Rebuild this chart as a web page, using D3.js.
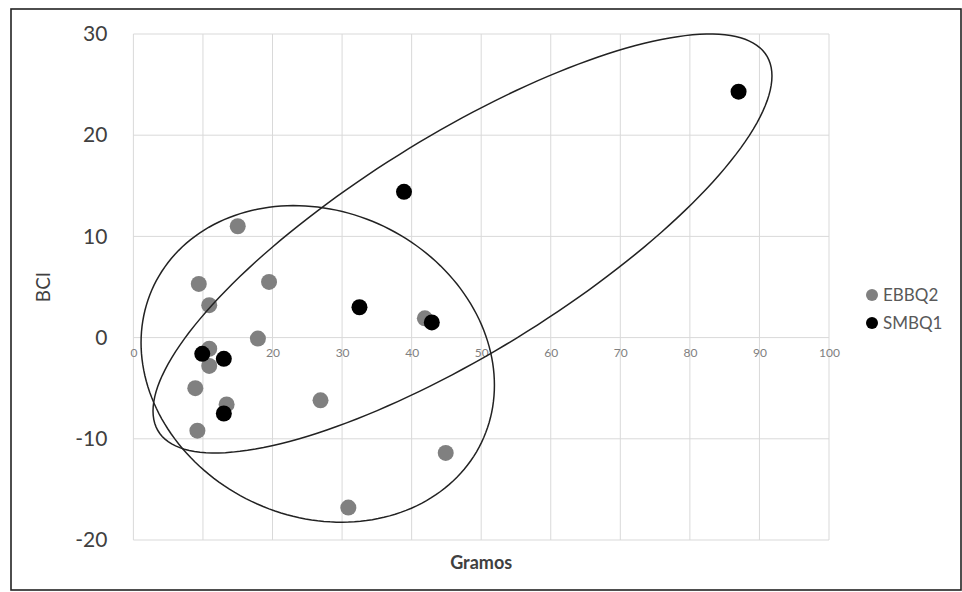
<!DOCTYPE html>
<html><head><meta charset="utf-8">
<script src="https://cdn.jsdelivr.net/npm/d3@7"></script>
<style>body{margin:0;background:#fff}svg{display:block}</style>
</head><body>
<script>
// ---- data ----
const seriesNames = ["EBBQ2", "SMBQ1"];
const ebbq2X = [15.0, 9.4, 19.5, 10.9, 17.9, 10.9, 10.9, 8.9, 13.4, 9.2, 26.9, 41.9, 44.9, 30.9];
const ebbq2Y = [11.0, 5.3, 5.5, 3.2, -0.1, -1.1, -2.8, -5.0, -6.6, -9.2, -6.2, 1.9, -11.4, -16.8];
const smbq1X = [9.9, 13.0, 13.0, 32.5, 42.9, 38.9, 87.0];
const smbq1Y = [-1.6, -2.1, -7.5, 3.0, 1.5, 14.4, 24.3];
const xTicks = [0, 10, 20, 30, 40, 50, 60, 70, 80, 90, 100];
const yTicks = [-20, -10, 0, 10, 20, 30];
// hand-drawn group ellipses (centre, two conjugate semi-axes, data units)
const ellipseCenters = [[26.5, -2.6], [47.31, 9.30]];
const ellipseAxisA = [[25.4, -2.1], [44.49, 16.55]];
const ellipseAxisB = [[0, -15.5], [0, -12.43]];

const W = 962, H = 592;
const svg = d3.select("body").append("svg").attr("width", W).attr("height", H);
const font = "Lato, 'Open Sans', sans-serif";

// outer frame
svg.append("rect").attr("x", 11).attr("y", 9).attr("width", 950).attr("height", 581)
  .attr("fill", "none").attr("stroke", "#222").attr("stroke-width", 1.6);

const x = d3.scaleLinear().domain([0, 100]).range([133.4, 829]);
const y = d3.scaleLinear().domain([-20, 30]).range([540, 34]);

// gridlines
const grid = svg.append("g").attr("stroke", "#d9d9d9").attr("stroke-width", 1);
grid.selectAll("line.v").data(xTicks).join("line").attr("class", "v")
  .attr("x1", d => x(d)).attr("x2", d => x(d)).attr("y1", y(30)).attr("y2", y(-20));
grid.selectAll("line.h").data(yTicks).join("line").attr("class", "h")
  .attr("x1", x(0)).attr("x2", x(100)).attr("y1", d => y(d)).attr("y2", d => y(d));

// y axis labels
const yAxis = d3.axisLeft(y).tickValues(yTicks).tickFormat(d => String(d)).tickSize(0).tickPadding(26);
const gy = svg.append("g").attr("transform", `translate(${x(0)},0)`).call(yAxis);
gy.select(".domain").remove();
gy.selectAll("text").attr("font-family", font).attr("font-size", 21).attr("fill", "#404040");

// x axis labels along y=0
const xAxis = d3.axisBottom(x).tickValues(xTicks).tickFormat(d => String(d)).tickSize(0).tickPadding(11);
const gx = svg.append("g").attr("transform", `translate(0,${y(0)})`).call(xAxis);
gx.select(".domain").remove();
gx.selectAll("text").attr("font-family", font).attr("font-size", 12).attr("fill", "#808080");

// axis titles
svg.append("text").attr("transform", `translate(50,${(y(30)+y(-20))/2}) rotate(-90)`)
  .attr("text-anchor", "middle").attr("font-family", font).attr("font-size", 19)
  .attr("fill", "#404040").text("BCI");
svg.append("text").attr("x", (x(0)+x(100))/2).attr("y", 569)
  .attr("text-anchor", "middle").attr("font-family", font).attr("font-size", 18).attr("font-weight", "bold")
  .attr("fill", "#404040").text("Gramos");

// points
const colors = ["#808080", "#000000"];
const eb = ebbq2X.map((v, i) => [v, ebbq2Y[i]]);
const sm = smbq1X.map((v, i) => [v, smbq1Y[i]]);
svg.append("g").selectAll("circle").data(eb).join("circle")
  .attr("cx", d => x(d[0])).attr("cy", d => y(d[1])).attr("r", 8).attr("fill", colors[0]);
svg.append("g").selectAll("circle").data(sm).join("circle")
  .attr("cx", d => x(d[0])).attr("cy", d => y(d[1])).attr("r", 8).attr("fill", colors[1]);

// ellipses
const ts = d3.range(0, 2 * Math.PI + 0.001, Math.PI / 90);
const line = d3.line().x(d => x(d[0])).y(d => y(d[1])).curve(d3.curveLinearClosed);
ellipseCenters.forEach((c, k) => {
  const A = ellipseAxisA[k], B = ellipseAxisB[k];
  const pts = ts.map(t => [c[0] + A[0]*Math.cos(t) + B[0]*Math.sin(t), c[1] + A[1]*Math.cos(t) + B[1]*Math.sin(t)]);
  svg.append("path").attr("d", line(pts)).attr("fill", "none").attr("stroke", "#222").attr("stroke-width", 1.5);
});

// legend
const lg = svg.append("g");
seriesNames.forEach((n, i) => {
  const yy = 295 + i * 28;
  lg.append("circle").attr("cx", 872).attr("cy", yy).attr("r", 6).attr("fill", colors[i]);
  lg.append("text").attr("x", 883).attr("y", yy).attr("dy", "0.35em").attr("font-family", font)
    .attr("font-size", 17).attr("fill", "#595959").text(n);
});
</script>
</body></html>
